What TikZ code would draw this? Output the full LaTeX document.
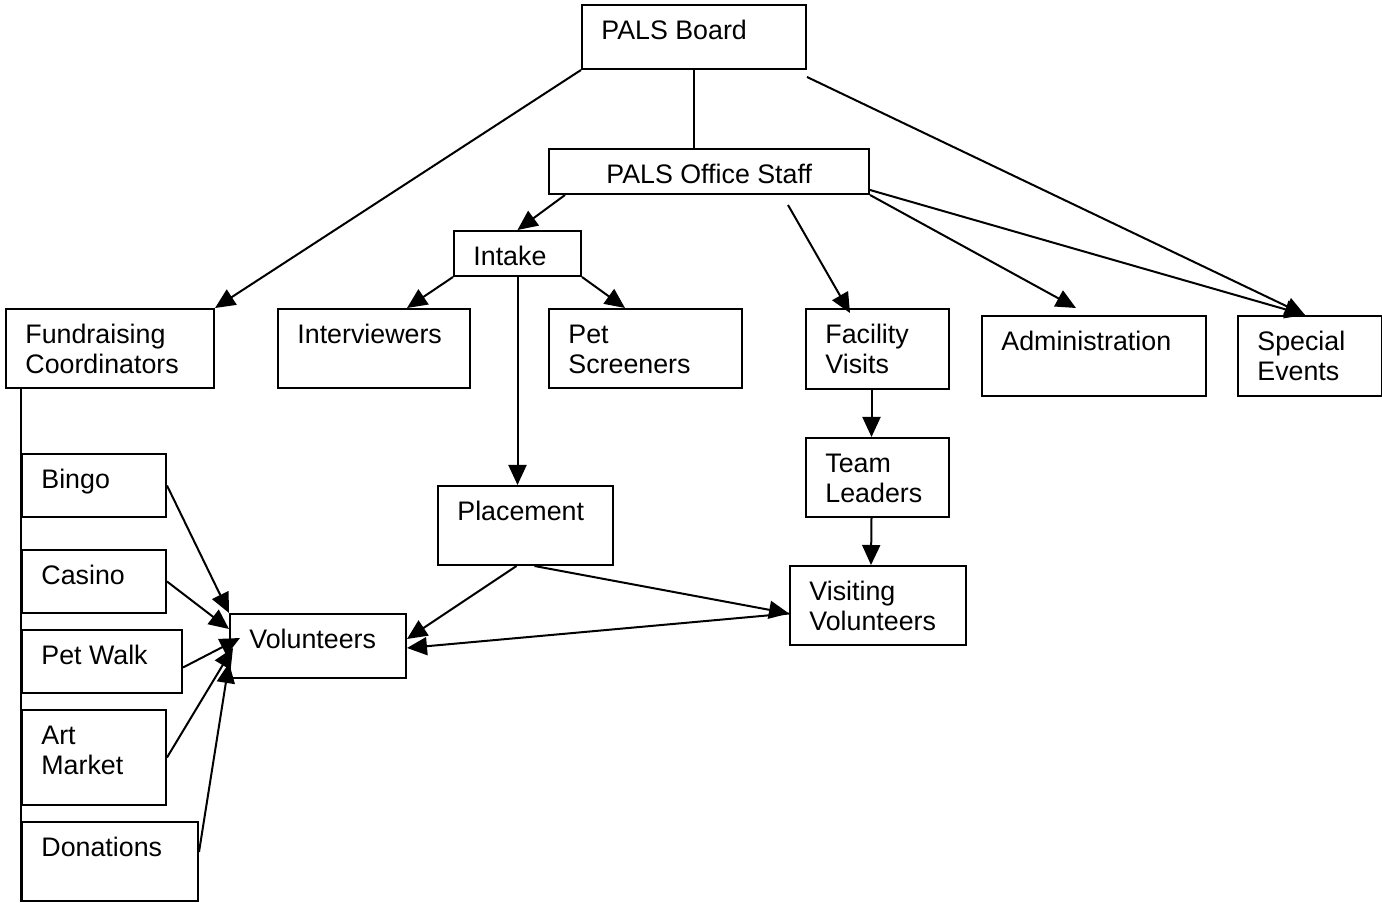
\documentclass[tikz,border=0pt]{standalone}
\usepackage{fontspec}
\setmainfont{Liberation Sans}
\usetikzlibrary{arrows.meta, calc}

\tikzset{
  unitbox/.style 2 args={draw, line width=1pt, anchor=north west, inner sep=0pt,
    minimum width=#1*0.5pt, minimum height=#2*0.5pt},
  unittext/.style={anchor=base west, align=left, inner sep=0pt, xshift=10pt, yshift=-17.85pt,
    font=\fontsize{13.4}{15}\selectfont},
  twoline/.style={unittext, yshift=-15pt},
  link/.style={line width=1pt, -{Triangle[length=10pt, width=9pt]}},
  plainlink/.style={line width=1pt},
}

\begin{document}
\begin{tikzpicture}[x=0.5pt, y=-0.5pt]
    \useasboundingbox (0,0) rectangle (1382,903);
    % === Top of the chart ===
    \node[unitbox={224}{64}, label={[unittext]north west:PALS Board}] (board) at (581,4) {};
    \node[unitbox={320}{45}, label={[unittext, xshift=19pt]north west:PALS Office Staff}] (staff) at (548,148) {};
    \node[unitbox={127}{45}, label={[unittext]north west:Intake}] (intake) at (453,230) {};
    % === Second row ===
    \node[unitbox={208}{79}, label={[twoline]north west:{Fundraising\\Coordinators}}] (fund) at (5,308) {};
    \node[unitbox={192}{79}, label={[unittext]north west:Interviewers}] (interv) at (277,308) {};
    \node[unitbox={193}{79}, label={[twoline]north west:{Pet\\Screeners}}] (screen) at (548,308) {};
    \node[unitbox={143}{80}, label={[twoline]north west:{Facility\\Visits}}] (facility) at (805,308) {};
    \node[unitbox={224}{80}, label={[unittext]north west:Administration}] (admin) at (981,315) {};
    \node[unitbox={144}{80}, label={[twoline]north west:{Special\\Events}}] (special) at (1237,315) {};
    % === Lower part ===
    \node[unitbox={143}{79}, label={[twoline]north west:{Team\\Leaders}}] (team) at (805,437) {};
    \node[unitbox={175}{79}, label={[unittext]north west:Placement}] (placement) at (437,485) {};
    \node[unitbox={176}{79}, label={[twoline]north west:{Visiting\\Volunteers}}] (visiting) at (789,565) {};
    \node[unitbox={176}{64}, label={[unittext]north west:Volunteers}] (volunteers) at (229,613) {};
    % Fundraising events
    \node[unitbox={144}{63}, label={[unittext]north west:Bingo}] (bingo) at (21,453) {};
    \node[unitbox={144}{63}, label={[unittext]north west:Casino}] (casino) at (21,549) {};
    \node[unitbox={160}{63}, label={[unittext]north west:Pet Walk}] (petwalk) at (21,629) {};
    \node[unitbox={144}{95}, label={[twoline]north west:{Art\\Market}}] (art) at (21,709) {};
    \node[unitbox={176}{79}, label={[unittext]north west:Donations}] (donations) at (21,821) {};

    % === Connectors ===
    \coordinate (evtip) at ([xshift=34pt]special.north west);
    \draw[plainlink] (board.south) -- (board.south |- staff.north);
    \draw[link] (board.south west) -- (fund.north east);
    \draw[link] ([yshift=-3.5pt]board.south east) -- (evtip);
    \draw[link] ([xshift=8.5pt]staff.south west) -- (intake.north);
    \draw[link] ([xshift=120pt, yshift=-5pt]staff.south west) -- ([xshift=22.5pt, yshift=-2.5pt]facility.north west);
    \draw[link] (staff.south east) -- ([xshift=47.5pt, yshift=3.5pt]admin.north west);
    \draw[link] ([yshift=2.5pt]staff.south east) -- (evtip);
    \draw[link] (intake.south west) -- ([xshift=65pt]interv.north west);
    \draw[link] (intake.south east) -- ([xshift=38.5pt]screen.north west);
    \draw[link] (intake.south) -- (intake.south |- placement.north);
    \draw[link] ([xshift=-3pt]facility.south) -- ([xshift=-3pt]team.north);
    \draw[link] ([xshift=-3pt]team.south) -- ([xshift=-3.5pt]visiting.north);
    \draw[link] ([xshift=-4.5pt]placement.south) -- ([yshift=3.5pt]volunteers.east);
    \draw[link] ([xshift=4.5pt]placement.south) -- ([yshift=-4pt]visiting.west);
    \draw[link] ([yshift=-4pt]visiting.west) -- ([yshift=-1pt]volunteers.east);
    % Fundraising events to volunteers
    \draw[plainlink] (donations.south west |- fund.south) -- (donations.south west);
    \draw[link] (bingo.east) -- (volunteers.north west);
    \draw[link] (casino.east) -- ([yshift=8.5pt]volunteers.west);
    \draw[link] ([yshift=-3pt]petwalk.east) -- ([xshift=5.5pt, yshift=4pt]volunteers.west);
    \draw[link] (art.east) -- ([xshift=2pt, yshift=-1pt]volunteers.west);
    \draw[link] ([yshift=-15.5pt]donations.north east) -- ([yshift=-8.5pt]volunteers.west);
\end{tikzpicture}
\end{document}
